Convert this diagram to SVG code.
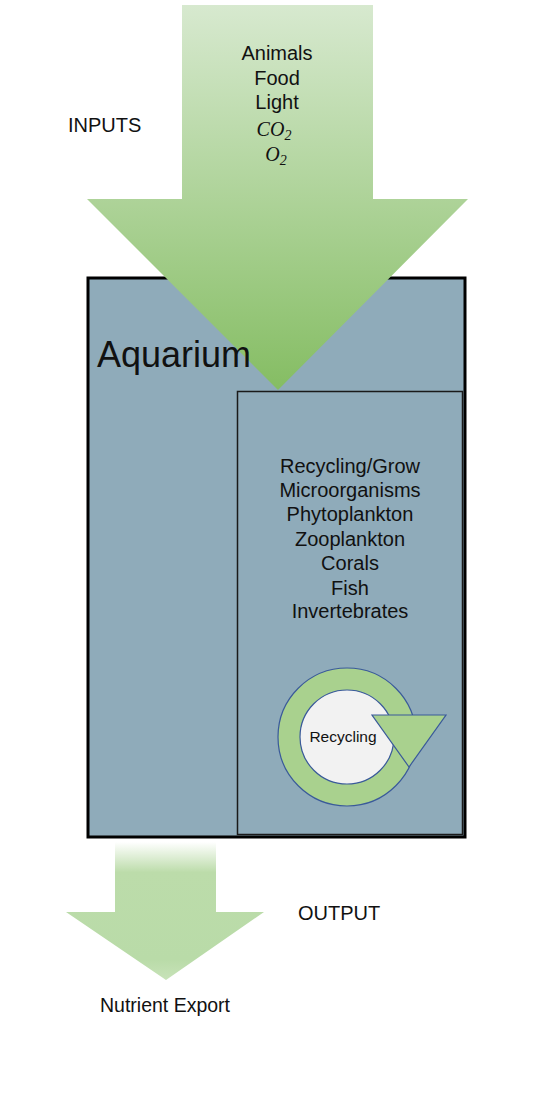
<svg xmlns="http://www.w3.org/2000/svg" width="556" height="1114" viewBox="0 0 556 1114">
<defs>
<linearGradient id="gIn" x1="0" y1="0" x2="0" y2="1">
<stop offset="0" stop-color="#d7e9cf"/>
<stop offset="1" stop-color="#85bd63"/>
</linearGradient>
<linearGradient id="gOut" x1="0" y1="0" x2="0" y2="1">
<stop offset="0" stop-color="#ffffff"/>
<stop offset="0.22" stop-color="#bcdcaa"/>
<stop offset="0.85" stop-color="#b9dba8"/>
<stop offset="1" stop-color="#c8e3b9"/>
</linearGradient>
<style>
.t{font-family:"Liberation Sans",Arial,sans-serif;fill:#111;}
.c{text-anchor:middle;font-size:20px;}
.m{font-family:"Liberation Serif","Times New Roman",serif;font-style:italic;font-size:20px;text-anchor:middle;fill:#111;}
</style>
</defs>
<rect width="556" height="1114" fill="#ffffff"/>
<g id="aquarium">
<rect x="88" y="278" width="377" height="559" fill="#8fabba" stroke="#000" stroke-width="3"/>
</g>
<g id="recycling-box">
<rect x="237.5" y="391.5" width="225" height="443" fill="#8fabba" stroke="#1a1a1a" stroke-width="1.5"/>
<text class="t c" font-size="20.4"><tspan x="350" y="473">Recycling/Grow</tspan><tspan x="350" y="497">Microorganisms</tspan><tspan x="350" y="521">Phytoplankton</tspan><tspan x="350" y="546">Zooplankton</tspan><tspan x="350" y="570">Corals</tspan><tspan x="350" y="595">Fish</tspan><tspan x="350" y="618">Invertebrates</tspan></text>
</g>
<g id="recycling-cycle">
<circle cx="347" cy="737" r="58" fill="none" stroke="#a9d18e" stroke-width="22"/>
<circle cx="347" cy="737" r="69" fill="none" stroke="#3a5a9a" stroke-width="1.2"/>
<circle cx="347" cy="737" r="47" fill="#f2f2f2" stroke="#3a5a9a" stroke-width="1.2"/>
<polygon points="372,715 446,715 409,767" fill="#a9d18e" stroke="#3a5a9a" stroke-width="1.2"/>
<text class="t" x="343" y="742" font-size="15.5" text-anchor="middle">Recycling</text>
</g>
<g id="inputs">
<polygon points="182,5 373,5 373,199 468,199 278,390 87,199 182,199" fill="url(#gIn)"/>
<text class="t c"><tspan x="277" y="60">Animals</tspan><tspan x="277" y="85">Food</tspan><tspan x="277" y="109">Light</tspan></text>
<text class="m" x="274" y="136">CO<tspan font-size="14" dy="4">2</tspan></text>
<text class="m" x="276" y="161">O<tspan font-size="14" dy="4">2</tspan></text>
<text class="t" x="68" y="132" font-size="20">INPUTS</text>
</g>
<g id="aquarium-label">
<text class="t" x="97" y="367" font-size="36">Aquarium</text>
</g>
<g id="output">
<polygon points="115,842 216,842 216,912 264,912 166,980 66,912 115,912" fill="url(#gOut)"/>
<text class="t" x="298" y="920" font-size="20">OUTPUT</text>
<text class="t" x="165" y="1012" font-size="19.5" text-anchor="middle">Nutrient Export</text>
</g>
<g id="connectors"></g>
</svg>
